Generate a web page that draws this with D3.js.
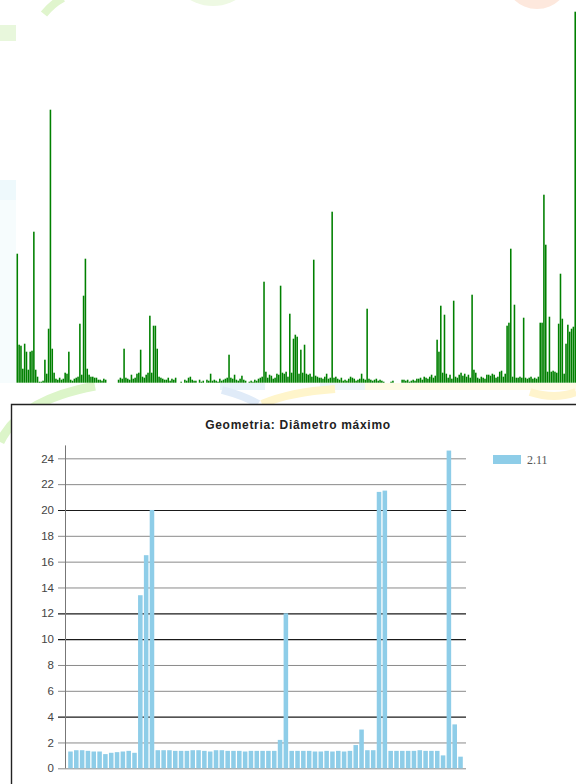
<!DOCTYPE html>
<html>
<head>
<meta charset="utf-8">
<script src="https://cdn.jsdelivr.net/npm/d3@7"></script>
<style>
  html, body { margin: 0; padding: 0; background: #fff; }
  svg { display: block; }
</style>
</head>
<body>
<svg id="page" width="576" height="784"></svg>
<script>
// ---- Top panel: dense frequency profile (green bars) ----
const profileValues = [
  129,38,37,14,39,31,13,31,32,151,
  13,6,1,1,2,23,9,54,273,34,
  10,4,3,5,3,4,10,9,31,3,
  2,4,5,6,59,8,87,124,14,8,
  6,6,5,5,3,3,2,4,3,0,
  0,0,0,0,0,3,5,4,34,5,
  4,3,8,4,5,9,10,33,6,5,
  8,10,67,10,57,57,34,6,5,4,
  3,3,5,2,4,3,5,0,0,1,
  0,3,2,5,6,3,2,2,0,3,
  1,2,0,3,2,9,2,3,2,1,
  4,2,3,4,5,28,5,4,8,3,
  2,4,7,3,2,0,1,2,1,3,
  2,4,5,6,101,11,5,8,7,4,
  5,9,8,97,10,9,11,6,69,10,
  44,48,46,9,33,10,38,9,8,9,
  6,123,7,6,5,5,4,6,9,4,
  5,171,5,6,4,3,5,2,3,2,
  4,6,5,4,2,3,4,9,4,3,
  74,4,3,2,3,4,2,3,2,1,
  0,0,0,1,2,0,0,0,0,3,
  3,2,3,1,2,3,2,4,4,5,
  3,6,5,4,6,8,5,7,43,31,
  77,10,68,9,5,8,4,82,6,5,
  8,10,7,9,6,8,5,88,13,10,
  5,4,6,5,4,8,8,7,9,8,
  5,6,11,12,6,9,57,60,134,6,
  78,5,5,6,5,65,5,4,5,6,
  4,5,4,6,60,60,188,138,11,66,
  11,12,11,10,59,109,64,9,39,58,
  51,54,56,371
];

// ---- Bottom panel: Geometria: Diâmetro máximo ----
const chartTitle = "Geometria: Diâmetro máximo";
const seriesName = "2.11";
const diameterValues = [
  1.3,1.4,1.4,1.35,1.3,1.3,1.1,1.2,1.25,1.3,1.35,1.2,
  13.4,16.5,20.0,
  1.4,1.4,1.4,1.35,1.35,1.35,1.4,1.4,1.35,1.3,1.4,1.4,1.35,1.35,1.35,1.3,1.35,1.35,1.35,1.35,1.35,
  2.2,12.0,
  1.35,1.35,1.35,1.35,1.3,1.3,1.35,1.3,1.35,1.3,1.35,
  1.8,3.0,
  1.4,1.4,
  21.4,21.5,
  1.35,1.35,1.35,1.35,1.35,1.4,1.35,1.35,1.35,
  1.0,24.6,3.4,0.9
];
const yTickValues = [0,2,4,6,8,10,12,14,16,18,20,22,24];
const strongRules = [4,10,12,20];

const svg = d3.select("#page");

// Pale decorative backdrop shapes behind both panels
const deco = svg.append("g").attr("class", "backdrop");
deco.append("circle").attr("cx", 537).attr("cy", -24).attr("r", 33).attr("fill", "#fde8dd");
deco.append("circle").attr("cx", 213).attr("cy", -40).attr("r", 46).attr("fill", "#eef9e3");
deco.append("path").attr("d", "M44,14 Q52,4 63,-2").attr("fill", "none")
  .attr("stroke", "#e0f5cd").attr("stroke-width", 8);
deco.append("rect").attr("x", 0).attr("y", 25).attr("width", 16).attr("height", 16).attr("fill", "#e8f7dc");
deco.append("rect").attr("x", 0).attr("y", 180).attr("width", 16).attr("height", 20).attr("fill", "#eef9fc");
deco.append("rect").attr("x", 0).attr("y", 200).attr("width", 16).attr("height", 183).attr("fill", "#f6fcfd");
deco.append("rect").attr("x", 220).attr("y", 383).attr("width", 45).attr("height", 7).attr("fill", "#e9f3fa");
deco.append("rect").attr("x", 320).attr("y", 383).attr("width", 45).attr("height", 7).attr("fill", "#eef5fb");
deco.append("rect").attr("x", 365).attr("y", 383).attr("width", 211).attr("height", 7).attr("fill", "#fffbe6");
deco.append("path").attr("d", "M0,442 Q20,400 95,386").attr("fill", "none")
  .attr("stroke", "#dcf5c9").attr("stroke-width", 9);
deco.append("path").attr("d", "M222,390 Q245,396 258,404").attr("fill", "none")
  .attr("stroke", "#e0ebf8").attr("stroke-width", 8);
deco.append("path").attr("d", "M262,404 Q290,392 335,389").attr("fill", "none")
  .attr("stroke", "#fff5cb").attr("stroke-width", 8);
deco.append("path").attr("d", "M530,392 Q555,400 576,392").attr("fill", "none")
  .attr("stroke", "#fff4cd").attr("stroke-width", 8);

// ---- Top panel drawing ----
const topX = d3.scaleBand()
  .domain(d3.range(profileValues.length))
  .range([16.5, 576])
  .paddingInner(0.15);
const topY = d3.scaleLinear()
  .domain([0, d3.max(profileValues)])
  .range([382.7, 11.7]);

svg.append("g").attr("class", "profile")
  .selectAll("rect")
  .data(profileValues)
  .join("rect")
  .attr("x", (d, i) => topX(i))
  .attr("width", topX.bandwidth())
  .attr("y", d => topY(d))
  .attr("height", d => topY(0) - topY(d))
  .attr("fill", "#008000");

// ---- Bottom panel drawing ----
const panel = svg.append("g").attr("class", "panel");
panel.append("rect").attr("x", 11.5).attr("y", 404.5).attr("width", 570).attr("height", 385)
  .attr("fill", "#fff");
panel.append("path").attr("d", "M11.5,790 V404.5 H580")
  .attr("fill", "none").attr("stroke", "#222").attr("stroke-width", 1.4);

const plotLeft = 65, plotRight = 466;
const y = d3.scaleLinear().domain([0, 25]).range([768.3, 445.4]);
const x = d3.scaleBand()
  .domain(d3.range(diameterValues.length))
  .range([plotLeft, plotRight])
  .paddingInner(0.22)
  .paddingOuter(0.55);

// horizontal rules with tick labels
const yAxis = d3.axisLeft(y).tickValues(yTickValues).tickSize(0).tickPadding(11);
const axisG = panel.append("g").attr("transform", `translate(${plotLeft},0)`).call(yAxis);
axisG.select(".domain").remove();
axisG.selectAll(".tick text")
  .attr("fill", "#444")
  .style("font-family", "'Liberation Sans', Arial, sans-serif")
  .style("font-size", "11.5px");
axisG.selectAll(".tick").append("line")
  .attr("x1", -7).attr("x2", plotRight - plotLeft)
  .attr("stroke", d => strongRules.includes(d) ? "#1a1a1a" : "#8a8a8a")
  .attr("stroke-width", d => strongRules.includes(d) ? 1.2 : 1);

panel.append("line")
  .attr("x1", plotLeft + 0.5).attr("x2", plotLeft + 0.5)
  .attr("y1", y(25)).attr("y2", y(0))
  .attr("stroke", "#777").attr("stroke-width", 1);

panel.append("g").attr("class", "bars")
  .selectAll("rect")
  .data(diameterValues)
  .join("rect")
  .attr("x", (d, i) => x(i))
  .attr("width", x.bandwidth())
  .attr("y", d => y(d))
  .attr("height", d => y(0) - y(d))
  .attr("fill", "#8ecde8");

panel.append("text")
  .attr("x", 298).attr("y", 429)
  .attr("text-anchor", "middle")
  .attr("fill", "#222")
  .style("font-family", "'Liberation Sans', Arial, sans-serif")
  .style("font-weight", "bold")
  .style("font-size", "12px")
  .style("letter-spacing", "0.7px")
  .text(chartTitle);

const legend = panel.append("g").attr("transform", "translate(493,455)");
legend.append("rect").attr("width", 28).attr("height", 9).attr("fill", "#8ecde8");
legend.append("text")
  .attr("x", 34).attr("y", 9)
  .attr("fill", "#555")
  .style("font-family", "'Liberation Serif', 'DejaVu Serif', serif")
  .style("font-size", "12px")
  .text(seriesName);
</script>
</body>
</html>
